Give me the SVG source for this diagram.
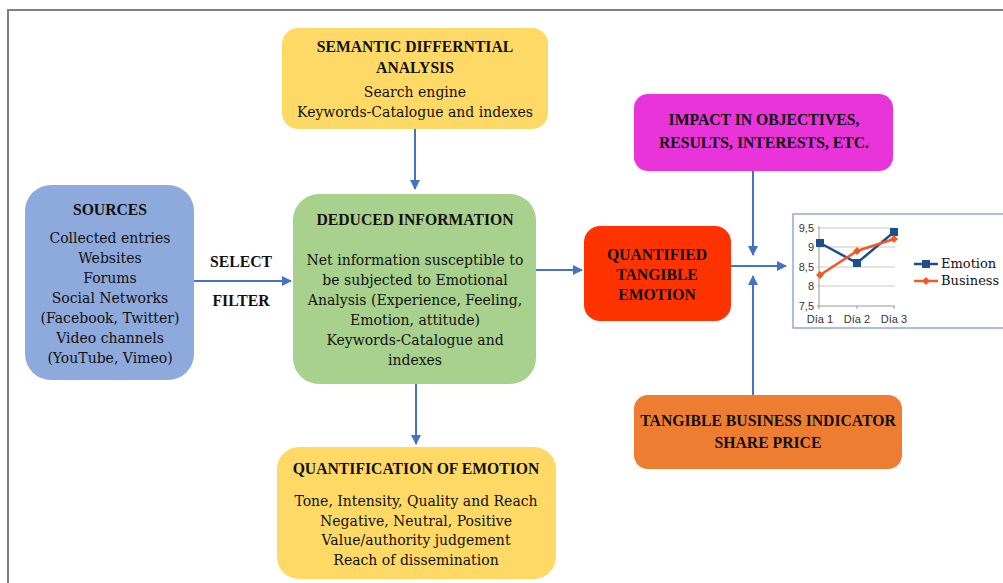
<svg xmlns="http://www.w3.org/2000/svg" width="1003" height="583" viewBox="0 0 1003 583">
<style>
.t{font-family:"DejaVu Serif","Liberation Serif",serif;font-size:14px;fill:#111;text-anchor:middle}
.b{font-family:"Liberation Serif","DejaVu Serif",serif;font-weight:bold;font-size:15.7px}
.ax{font-family:"Liberation Sans",Arial,sans-serif;font-size:11px;fill:#333}
.lg{font-family:"DejaVu Serif",serif;font-size:13px;fill:#111}
.c{stroke:#4472C4;stroke-width:2;fill:none}
.g{stroke:#c8c8c8;stroke-width:1}
</style>
<defs>
<marker id="ah" viewBox="0 0 10 10" refX="9" refY="5" markerWidth="5" markerHeight="5" orient="auto" markerUnits="strokeWidth">
<path d="M0,0 L10,5 L0,10 z" fill="#4472C4"/>
</marker>
</defs>
<rect width="1003" height="583" fill="#fff"/>
<path d="M8,583 V10 H1003" fill="none" stroke="#808080" stroke-width="2"/>

<g id="connectors">
<path class="c" d="M415,129 V189" marker-end="url(#ah)"/>
<path class="c" d="M194,281 H291" marker-end="url(#ah)"/>
<path class="c" d="M416,384 V444" marker-end="url(#ah)"/>
<path class="c" d="M536,270 H582" marker-end="url(#ah)"/>
<path class="c" d="M731,266 H786" marker-end="url(#ah)"/>
<path class="c" d="M753,170 V255" marker-end="url(#ah)"/>
<path class="c" d="M753,395 V276" marker-end="url(#ah)"/>
<text class="t b" x="241" y="267">SELECT</text>
<text class="t b" x="241" y="306">FILTER</text>
</g>

<g id="sources">
<rect x="25" y="185" width="169" height="195" rx="26" fill="#8EA9DB"/>
<text class="t b" x="110" y="215">SOURCES</text>
<text class="t" x="110" y="243">Collected entries</text>
<text class="t" x="110" y="263">Websites</text>
<text class="t" x="110" y="283">Forums</text>
<text class="t" x="110" y="303">Social Networks</text>
<text class="t" x="110" y="323">(Facebook, Twitter)</text>
<text class="t" x="110" y="343">Video channels</text>
<text class="t" x="110" y="363">(YouTube, Vimeo)</text>
</g>

<g id="semantic">
<rect x="282" y="28" width="266" height="101" rx="16" fill="#FFD966"/>
<text class="t b" x="415" y="52">SEMANTIC DIFFERNTIAL</text>
<text class="t b" x="415" y="73">ANALYSIS</text>
<text class="t" x="415" y="97">Search engine</text>
<text class="t" x="415" y="117">Keywords-Catalogue and indexes</text>
</g>

<g id="deduced">
<rect x="293" y="194" width="243" height="190" rx="26" fill="#A9D18E"/>
<text class="t b" x="415" y="225">DEDUCED INFORMATION</text>
<text class="t" x="415" y="265">Net information susceptible to</text>
<text class="t" x="415" y="285">be subjected to Emotional</text>
<text class="t" x="415" y="305">Analysis (Experience, Feeling,</text>
<text class="t" x="415" y="325">Emotion, attitude)</text>
<text class="t" x="415" y="345">Keywords-Catalogue and</text>
<text class="t" x="415" y="365">indexes</text>
</g>

<g id="quantification">
<rect x="277" y="447" width="279" height="132" rx="22" fill="#FFD966"/>
<text class="t b" x="416" y="474">QUANTIFICATION OF EMOTION</text>
<text class="t" x="416" y="506">Tone, Intensity, Quality and Reach</text>
<text class="t" x="416" y="526">Negative, Neutral, Positive</text>
<text class="t" x="416" y="545">Value/authority judgement</text>
<text class="t" x="416" y="565">Reach of dissemination</text>
</g>

<g id="quantified">
<rect x="584" y="226" width="147" height="95" rx="16" fill="#FF3300"/>
<text class="t b" x="657" y="260">QUANTIFIED</text>
<text class="t b" x="657" y="280">TANGIBLE</text>
<text class="t b" x="657" y="300">EMOTION</text>
</g>

<g id="impact">
<rect x="634" y="94" width="259" height="77" rx="14" fill="#E834D9"/>
<text class="t b" x="764" y="125">IMPACT IN OBJECTIVES,</text>
<text class="t b" x="764" y="148">RESULTS, INTERESTS, ETC.</text>
</g>

<g id="business">
<rect x="634" y="395" width="268" height="74" rx="14" fill="#ED7D31"/>
<text class="t b" x="768" y="426">TANGIBLE BUSINESS INDICATOR</text>
<text class="t b" x="768" y="448">SHARE PRICE</text>
</g>

<g id="chart">
<rect x="793" y="214" width="220" height="114" fill="#fff" stroke="#8EA9DB" stroke-width="1.5"/>
<line class="g" x1="817" y1="228" x2="895" y2="228"/>
<line class="g" x1="817" y1="247" x2="895" y2="247"/>
<line class="g" x1="817" y1="267" x2="895" y2="267"/>
<line class="g" x1="817" y1="286" x2="895" y2="286"/>
<line x1="817" y1="306" x2="895" y2="306" stroke="#999" stroke-width="1"/>
<line x1="819" y1="226" x2="819" y2="309" stroke="#999" stroke-width="1"/>
<line x1="857" y1="306" x2="857" y2="309" stroke="#999"/>
<line x1="894" y1="306" x2="894" y2="309" stroke="#999"/>
<text class="ax" x="814" y="232" text-anchor="end">9,5</text>
<text class="ax" x="814" y="251" text-anchor="end">9</text>
<text class="ax" x="814" y="271" text-anchor="end">8,5</text>
<text class="ax" x="814" y="290" text-anchor="end">8</text>
<text class="ax" x="814" y="310" text-anchor="end">7,5</text>
<text class="ax" x="820" y="323" text-anchor="middle">Día 1</text>
<text class="ax" x="857" y="323" text-anchor="middle">Día 2</text>
<text class="ax" x="894" y="323" text-anchor="middle">Día 3</text>
<polyline points="820,243 857,263 894,232" fill="none" stroke="#1F4E89" stroke-width="2.5"/>
<rect x="816" y="239" width="8" height="8" fill="#1F4E89"/>
<rect x="853" y="259" width="8" height="8" fill="#1F4E89"/>
<rect x="890" y="228" width="8" height="8" fill="#1F4E89"/>
<polyline points="820,275 857,251 894,239" fill="none" stroke="#F05A28" stroke-width="2.5"/>
<path d="M820,271 L824,275 L820,279 L816,275 z M857,247 L861,251 L857,255 L853,251 z M894,235 L898,239 L894,243 L890,239 z" fill="#F05A28"/>
<line x1="914" y1="264" x2="938" y2="264" stroke="#1F4E89" stroke-width="2.5"/>
<rect x="922" y="260" width="8" height="8" fill="#1F4E89"/>
<text class="lg" x="941" y="268">Emotion</text>
<line x1="914" y1="281" x2="938" y2="281" stroke="#F05A28" stroke-width="2.5"/>
<path d="M926,277 L930,281 L926,285 L922,281 z" fill="#F05A28"/>
<text class="lg" x="941" y="285">Business</text>
</g>
</svg>
